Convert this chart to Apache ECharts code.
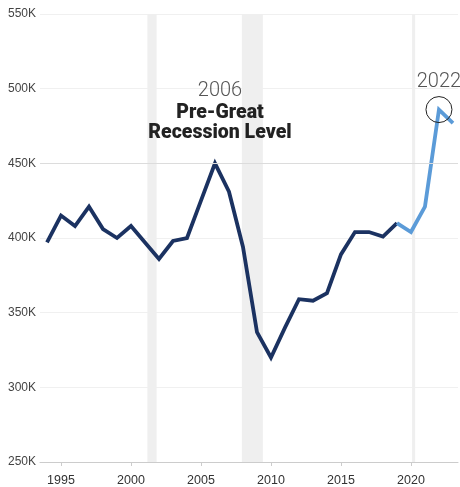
<!DOCTYPE html>
<html>
<head>
<meta charset="utf-8">
<script src="https://cdn.jsdelivr.net/npm/echarts@6/dist/echarts.min.js"></script>
<style>
html,body{margin:0;padding:0;background:#fff;}
#chart{width:460px;height:487px;}
</style>
</head>
<body>
<div id="chart"></div>
<script>
// Data (values in thousands)
const years = [1994,1995,1996,1997,1998,1999,2000,2001,2002,2003,2004,2005,2006,2007,2008,2009,2010,2011,2012,2013,2014,2015,2016,2017,2018,2019,2020,2021,2022,2023];
const values = [397,415,408,421,406,400,408,397,386,398,400,425,450,431,394,337,320,340,359,358,363,389,404,404,401,410,404,421,486,477];
const splitYear = 2019;
const xTickLabels = [1995,2000,2005,2010,2015,2020];
const yTicks = [250,300,350,400,450,500,550];
const recessionStarts = [2001.17, 2007.92, 2020.08];
const recessionEnds = [2001.83, 2009.42, 2020.3];
const refLevel = 450;
const peakYear = 2006;
const latestPeakYear = 2022;

const pairs = years.map((y, i) => [y, values[i]]);
const darkData = pairs.filter(p => p[0] <= splitYear);
const lightData = pairs.filter(p => p[0] >= splitYear);
const valOf = y => values[years.indexOf(y)];

const chart = echarts.init(document.getElementById('chart'), null, {renderer: 'canvas'});
const labelFont = '"Liberation Sans", Arial, sans-serif';

chart.setOption({
  animation: false,
  backgroundColor: '#fff',
  grid: {left: 40, right: 2, top: 14, bottom: 25},
  xAxis: {
    type: 'value',
    min: 1993.5,
    max: 2023.36,
    axisLine: {show: true, lineStyle: {color: '#cccccc', width: 1}},
    axisTick: {show: true, length: 4, lineStyle: {color: '#cccccc'}, customValues: xTickLabels},
    axisLabel: {customValues: xTickLabels, color: '#333', fontSize: 12.5, fontFamily: labelFont, margin: 12, formatter: v => String(v)},
    splitLine: {show: false}
  },
  yAxis: {
    type: 'value',
    min: yTicks[0],
    max: yTicks[yTicks.length - 1],
    interval: 50,
    axisLine: {show: false},
    axisTick: {show: false},
    axisLabel: {color: '#444', fontSize: 12, fontFamily: labelFont, margin: 4, formatter: v => v + 'K'},
    splitLine: {show: true, lineStyle: {color: '#f0f0f0', width: 1}}
  },
  series: [
    {
      type: 'line',
      data: darkData,
      showSymbol: false,
      symbol: 'none',
      lineStyle: {color: '#1b3261', width: 3.8, join: 'miter'},
      z: 3,
      markArea: {
        silent: true,
        itemStyle: {color: '#efefef'},
        data: recessionStarts.map((s, i) => [{xAxis: s}, {xAxis: recessionEnds[i]}])
      },
      markLine: {
        silent: true,
        symbol: 'none',
        label: {show: false},
        lineStyle: {color: '#dcdcdc', width: 1, type: 'solid'},
        data: [{yAxis: refLevel}]
      },
      markPoint: {
        silent: true,
        symbol: 'circle',
        symbolSize: 1,
        itemStyle: {color: 'rgba(0,0,0,0)'},
        data: [{coord: [peakYear, valOf(peakYear)]}],
        label: {
          show: true,
          position: 'inside',
          offset: [5, -52],
          align: 'center',
          verticalAlign: 'middle',
          formatter: peakYear + '\n{b|Pre-Great}\n{b|Recession Level}',
          fontFamily: 'Roboto, sans-serif',
          fontWeight: 300,
          fontSize: 20,
          color: '#555',
          lineHeight: 23,
          rich: {
            b: {fontFamily: 'Roboto, sans-serif', fontWeight: 900, fontSize: 19.5, color: '#222', lineHeight: 20}
          }
        }
      }
    },
    {
      type: 'line',
      data: lightData,
      showSymbol: false,
      symbol: 'none',
      lineStyle: {color: '#5b9bd8', width: 3.8, join: 'miter'},
      z: 4,
      markPoint: {
        silent: true,
        symbol: 'circle',
        symbolSize: 26,
        itemStyle: {color: 'rgba(0,0,0,0)', borderColor: '#222', borderWidth: 1},
        data: [{coord: [latestPeakYear, valOf(latestPeakYear)]}],
        label: {
          show: true,
          position: 'top',
          distance: 4,
          formatter: String(latestPeakYear),
          fontFamily: 'Roboto, sans-serif',
          fontWeight: 300,
          fontSize: 20,
          color: '#555'
        }
      }
    }
  ]
});
</script>
</body>
</html>
